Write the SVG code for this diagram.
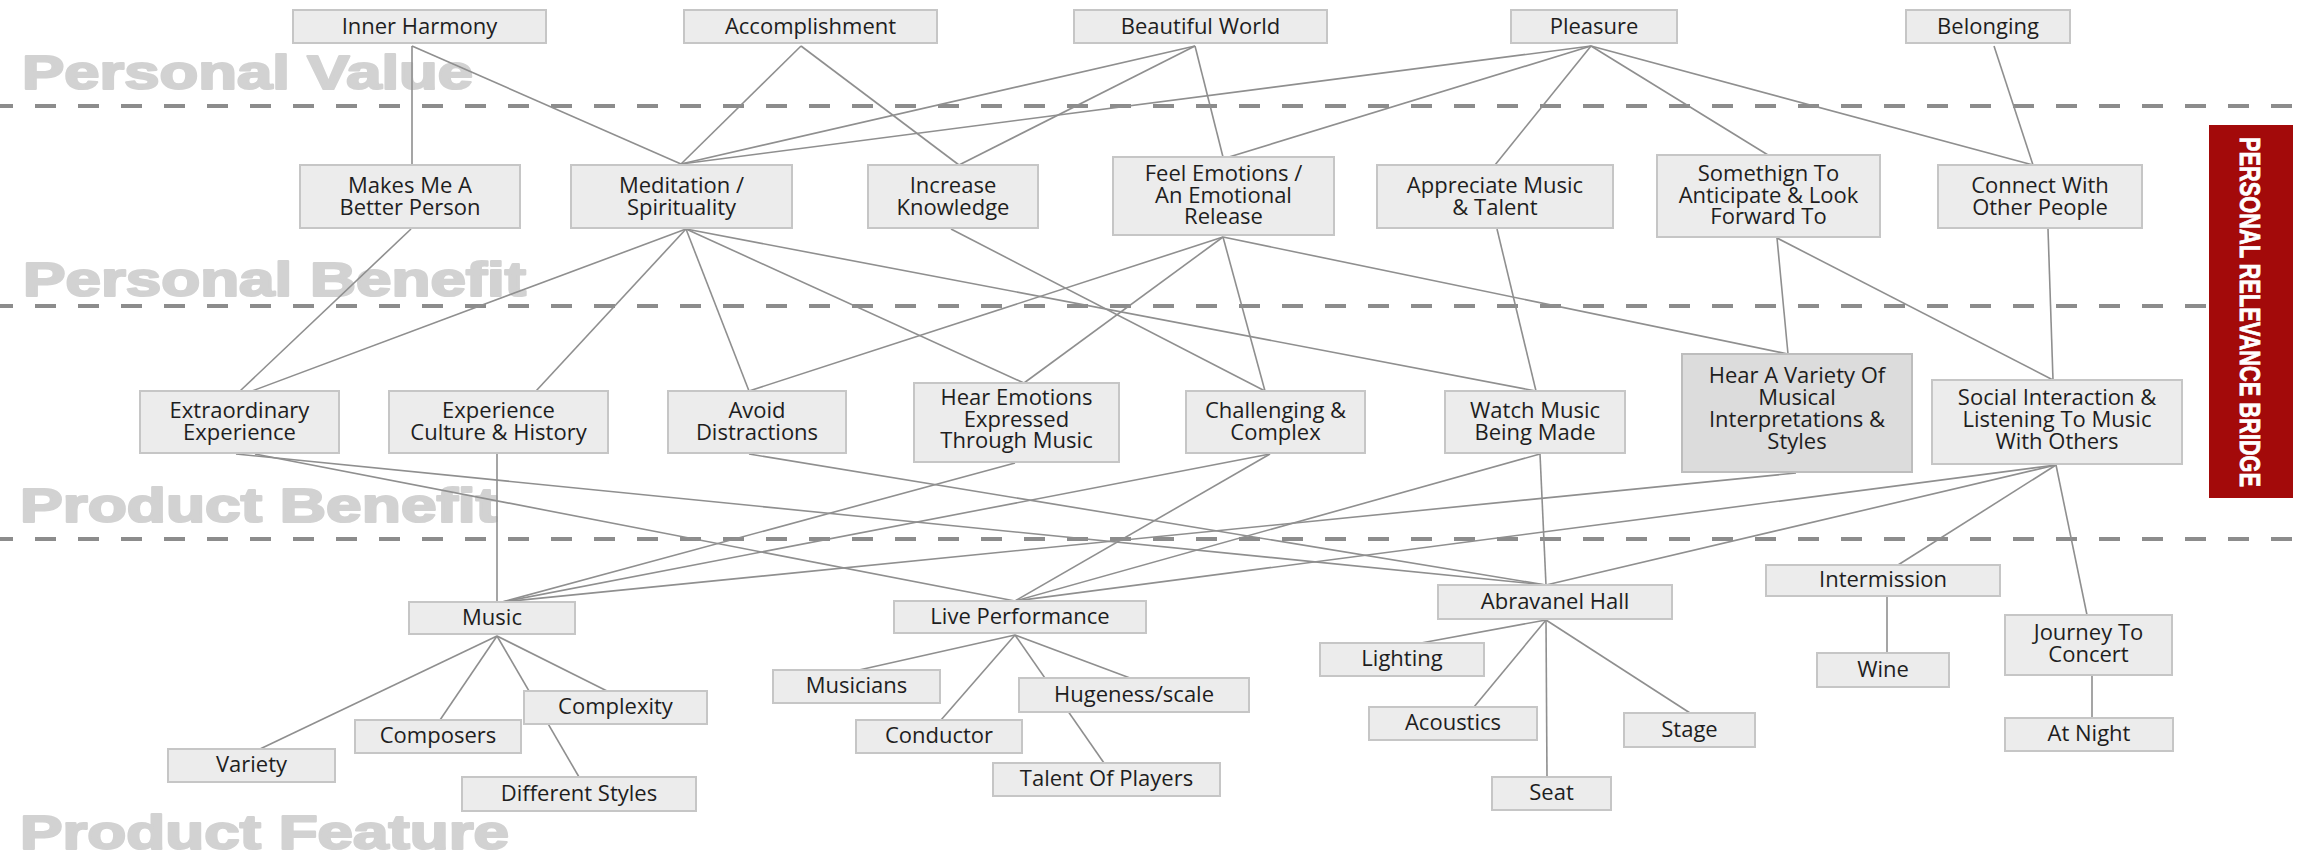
<svg xmlns="http://www.w3.org/2000/svg" width="2315" height="857" viewBox="0 0 2315 857">
<style>
.bg{fill:#ffffff}
.layer{font-family:"Liberation Sans",Arial,sans-serif;font-weight:bold;font-size:48px;fill:#d2d2d2;stroke:#d2d2d2;stroke-width:2.2;stroke-linejoin:round}
.dash{stroke:#8c8c8c;stroke-width:4;stroke-dasharray:21 22;fill:none}
.conn line{stroke:#8f8f8f;stroke-width:1.6}
.node rect{fill:#ececec;stroke:#c6c6c6;stroke-width:2}
.node.dark rect{fill:#dcdcdc;stroke:#bdbdbd}
.node text{font-family:"Open Sans","Liberation Sans",sans-serif;font-size:22px;fill:#1e1e1e;text-anchor:middle}
.bridge-text{font-family:"Liberation Sans",Arial,sans-serif;font-weight:bold;font-size:30px;fill:#ffffff;stroke:#ffffff;stroke-width:0.8;text-anchor:middle}
</style>
<rect class="bg" x="0" y="0" width="2315" height="857"/>

<g id="layer-labels">
<text class="layer" x="22" y="89" textLength="451" lengthAdjust="spacingAndGlyphs">Personal Value</text>
<text class="layer" x="23" y="296" textLength="503" lengthAdjust="spacingAndGlyphs">Personal Benefit</text>
<text class="layer" x="20" y="522" textLength="477" lengthAdjust="spacingAndGlyphs">Product Benefit</text>
<text class="layer" x="20" y="849" textLength="489" lengthAdjust="spacingAndGlyphs">Product Feature</text>
</g>

<g id="dividers">
<line class="dash" x1="-8" y1="106" x2="2292" y2="106"/>
<line class="dash" x1="-8" y1="306" x2="2208" y2="306"/>
<line class="dash" x1="-8" y1="539" x2="2292" y2="539"/>
</g>

<g id="connectors" class="conn">
<line x1="412" y1="46" x2="412" y2="165"/>
<line x1="412" y1="46" x2="681" y2="164"/>
<line x1="801" y1="46" x2="681" y2="164"/>
<line x1="801" y1="46" x2="959" y2="165"/>
<line x1="1195" y1="46" x2="681" y2="164"/>
<line x1="1195" y1="46" x2="959" y2="165"/>
<line x1="1195" y1="46" x2="1223" y2="157"/>
<line x1="1591" y1="46" x2="681" y2="164"/>
<line x1="1591" y1="46" x2="1229" y2="157"/>
<line x1="1591" y1="46" x2="1495" y2="165"/>
<line x1="1591" y1="46" x2="1768" y2="155"/>
<line x1="1591" y1="46" x2="2033" y2="165"/>
<line x1="1994" y1="46" x2="2033" y2="165"/>

<line x1="411" y1="229" x2="240" y2="391"/>
<line x1="686" y1="229" x2="252" y2="391"/>
<line x1="686" y1="229" x2="536" y2="391"/>
<line x1="686" y1="229" x2="749" y2="391"/>
<line x1="686" y1="229" x2="1024" y2="383"/>
<line x1="686" y1="229" x2="1536" y2="391"/>
<line x1="951" y1="229" x2="1265" y2="391"/>
<line x1="1223" y1="237" x2="749" y2="391"/>
<line x1="1223" y1="237" x2="1024" y2="383"/>
<line x1="1223" y1="237" x2="1265" y2="391"/>
<line x1="1223" y1="237" x2="1788" y2="354"/>
<line x1="1497" y1="229" x2="1536" y2="391"/>
<line x1="1777" y1="238" x2="1788" y2="354"/>
<line x1="1777" y1="238" x2="2053" y2="380"/>
<line x1="2048" y1="229" x2="2053" y2="380"/>

<line x1="236" y1="454" x2="1546" y2="585"/>
<line x1="255" y1="454" x2="1015" y2="601"/>
<line x1="497" y1="454" x2="497" y2="602"/>
<line x1="749" y1="454" x2="1546" y2="585"/>
<line x1="1015" y1="463" x2="502" y2="602"/>
<line x1="1270" y1="454" x2="502" y2="602"/>
<line x1="1270" y1="454" x2="1015" y2="601"/>
<line x1="1540" y1="454" x2="1546" y2="585"/>
<line x1="1540" y1="454" x2="1015" y2="601"/>
<line x1="1796" y1="473" x2="502" y2="602"/>
<line x1="2056" y1="465" x2="1015" y2="601"/>
<line x1="2056" y1="465" x2="1546" y2="585"/>
<line x1="2056" y1="465" x2="1898" y2="565"/>
<line x1="2056" y1="465" x2="2087" y2="615"/>

<line x1="497" y1="636" x2="260" y2="749"/>
<line x1="497" y1="636" x2="440" y2="720"/>
<line x1="497" y1="636" x2="579" y2="777"/>
<line x1="497" y1="636" x2="607" y2="691"/>
<line x1="1015" y1="635" x2="859" y2="670"/>
<line x1="1015" y1="635" x2="941" y2="720"/>
<line x1="1015" y1="635" x2="1130" y2="678"/>
<line x1="1015" y1="635" x2="1104" y2="763"/>
<line x1="1546" y1="620" x2="1421" y2="643"/>
<line x1="1546" y1="620" x2="1474" y2="707"/>
<line x1="1546" y1="620" x2="1547" y2="777"/>
<line x1="1546" y1="620" x2="1690" y2="713"/>
<line x1="1887" y1="597" x2="1887" y2="653"/>
<line x1="2092" y1="676" x2="2092" y2="718"/>
</g>

<g id="inner-harmony" class="node"><rect x="293" y="10" width="253" height="33"/><text x="419.5" y="34">Inner Harmony</text></g>
<g id="accomplishment" class="node"><rect x="684" y="10" width="253" height="33"/><text x="810.5" y="34">Accomplishment</text></g>
<g id="beautiful-world" class="node"><rect x="1074" y="10" width="253" height="33"/><text x="1200.5" y="34">Beautiful World</text></g>
<g id="pleasure" class="node"><rect x="1511" y="10" width="166" height="33"/><text x="1594" y="34">Pleasure</text></g>
<g id="belonging" class="node"><rect x="1906" y="10" width="164" height="33"/><text x="1988" y="34">Belonging</text></g>

<g id="makes-me-better" class="node"><rect x="300" y="165" width="220" height="63"/><text x="410" y="193"><tspan x="410">Makes Me A</tspan><tspan x="410" dy="21.5">Better Person</tspan></text></g>
<g id="meditation" class="node"><rect x="571" y="165" width="221" height="63"/><text x="681.5" y="193"><tspan x="681.5">Meditation /</tspan><tspan x="681.5" dy="21.5">Spirituality</tspan></text></g>
<g id="increase-knowledge" class="node"><rect x="868" y="165" width="170" height="63"/><text x="953" y="193"><tspan x="953">Increase</tspan><tspan x="953" dy="21.5">Knowledge</tspan></text></g>
<g id="feel-emotions" class="node"><rect x="1113" y="157" width="221" height="78"/><text x="1223.5" y="181"><tspan x="1223.5">Feel Emotions /</tspan><tspan x="1223.5" dy="21.5">An Emotional</tspan><tspan x="1223.5" dy="21.5">Release</tspan></text></g>
<g id="appreciate-music" class="node"><rect x="1377" y="165" width="236" height="63"/><text x="1495" y="193"><tspan x="1495">Appreciate Music</tspan><tspan x="1495" dy="21.5">&amp; Talent</tspan></text></g>
<g id="something-to-anticipate" class="node"><rect x="1657" y="155" width="223" height="82"/><text x="1768.5" y="181"><tspan x="1768.5">Somethign To</tspan><tspan x="1768.5" dy="21.5">Anticipate &amp; Look</tspan><tspan x="1768.5" dy="21.5">Forward To</tspan></text></g>
<g id="connect-with-others" class="node"><rect x="1938" y="165" width="204" height="63"/><text x="2040" y="193"><tspan x="2040">Connect With</tspan><tspan x="2040" dy="21.5">Other People</tspan></text></g>

<g id="extraordinary-experience" class="node"><rect x="140" y="391" width="199" height="62"/><text x="239.5" y="418"><tspan x="239.5">Extraordinary</tspan><tspan x="239.5" dy="21.5">Experience</tspan></text></g>
<g id="experience-culture" class="node"><rect x="389" y="391" width="219" height="62"/><text x="498.5" y="418"><tspan x="498.5">Experience</tspan><tspan x="498.5" dy="21.5">Culture &amp; History</tspan></text></g>
<g id="avoid-distractions" class="node"><rect x="668" y="391" width="178" height="62"/><text x="757" y="418"><tspan x="757">Avoid</tspan><tspan x="757" dy="21.5">Distractions</tspan></text></g>
<g id="hear-emotions" class="node"><rect x="914" y="383" width="205" height="79"/><text x="1016.5" y="405"><tspan x="1016.5">Hear Emotions</tspan><tspan x="1016.5" dy="21.5">Expressed</tspan><tspan x="1016.5" dy="21.5">Through Music</tspan></text></g>
<g id="challenging-complex" class="node"><rect x="1186" y="391" width="179" height="62"/><text x="1275.5" y="418"><tspan x="1275.5">Challenging &amp;</tspan><tspan x="1275.5" dy="21.5">Complex</tspan></text></g>
<g id="watch-music" class="node"><rect x="1445" y="391" width="180" height="62"/><text x="1535" y="418"><tspan x="1535">Watch Music</tspan><tspan x="1535" dy="21.5">Being Made</tspan></text></g>
<g id="hear-variety" class="node dark"><rect x="1682" y="354" width="230" height="118"/><text x="1797" y="383"><tspan x="1797">Hear A Variety Of</tspan><tspan x="1797" dy="22">Musical</tspan><tspan x="1797" dy="22">Interpretations &amp;</tspan><tspan x="1797" dy="22">Styles</tspan></text></g>
<g id="social-interaction" class="node"><rect x="1932" y="380" width="250" height="84"/><text x="2057" y="405"><tspan x="2057">Social Interaction &amp;</tspan><tspan x="2057" dy="22">Listening To Music</tspan><tspan x="2057" dy="22">With Others</tspan></text></g>

<g id="music" class="node"><rect x="409" y="602" width="166" height="32"/><text x="492" y="625">Music</text></g>
<g id="complexity" class="node"><rect x="524" y="691" width="183" height="33"/><text x="615.5" y="714">Complexity</text></g>
<g id="composers" class="node"><rect x="355" y="720" width="166" height="33"/><text x="438" y="743">Composers</text></g>
<g id="variety" class="node"><rect x="168" y="749" width="167" height="33"/><text x="251.5" y="772">Variety</text></g>
<g id="different-styles" class="node"><rect x="462" y="777" width="234" height="34"/><text x="579" y="801">Different Styles</text></g>
<g id="live-performance" class="node"><rect x="894" y="601" width="252" height="32"/><text x="1020" y="624">Live Performance</text></g>
<g id="musicians" class="node"><rect x="773" y="670" width="167" height="33"/><text x="856.5" y="693">Musicians</text></g>
<g id="hugeness-scale" class="node"><rect x="1019" y="678" width="230" height="34"/><text x="1134" y="702">Hugeness/scale</text></g>
<g id="conductor" class="node"><rect x="856" y="720" width="166" height="33"/><text x="939" y="743">Conductor</text></g>
<g id="talent-of-players" class="node"><rect x="993" y="763" width="227" height="33"/><text x="1106.5" y="786">Talent Of Players</text></g>
<g id="abravanel-hall" class="node"><rect x="1438" y="585" width="234" height="34"/><text x="1555" y="609">Abravanel Hall</text></g>
<g id="lighting" class="node"><rect x="1320" y="643" width="164" height="33"/><text x="1402" y="666">Lighting</text></g>
<g id="acoustics" class="node"><rect x="1369" y="707" width="168" height="33"/><text x="1453" y="730">Acoustics</text></g>
<g id="seat" class="node"><rect x="1492" y="777" width="119" height="33"/><text x="1551.5" y="800">Seat</text></g>
<g id="stage" class="node"><rect x="1624" y="713" width="131" height="34"/><text x="1689.5" y="737">Stage</text></g>
<g id="intermission" class="node"><rect x="1766" y="565" width="234" height="31"/><text x="1883" y="587">Intermission</text></g>
<g id="wine" class="node"><rect x="1817" y="653" width="132" height="34"/><text x="1883" y="677">Wine</text></g>
<g id="journey-to-concert" class="node"><rect x="2005" y="615" width="167" height="60"/><text x="2088.5" y="640"><tspan x="2088.5">Journey To</tspan><tspan x="2088.5" dy="22">Concert</tspan></text></g>
<g id="at-night" class="node"><rect x="2005" y="718" width="168" height="33"/><text x="2089" y="741">At Night</text></g>

<g id="personal-relevance-bridge">
<rect x="2209" y="125" width="84" height="373" fill="#a30a0a"/>
<text class="bridge-text" transform="translate(2240,312) rotate(90)" x="0" y="0" textLength="350" lengthAdjust="spacingAndGlyphs">PERSONAL RELEVANCE BRIDGE</text>
</g>
</svg>
